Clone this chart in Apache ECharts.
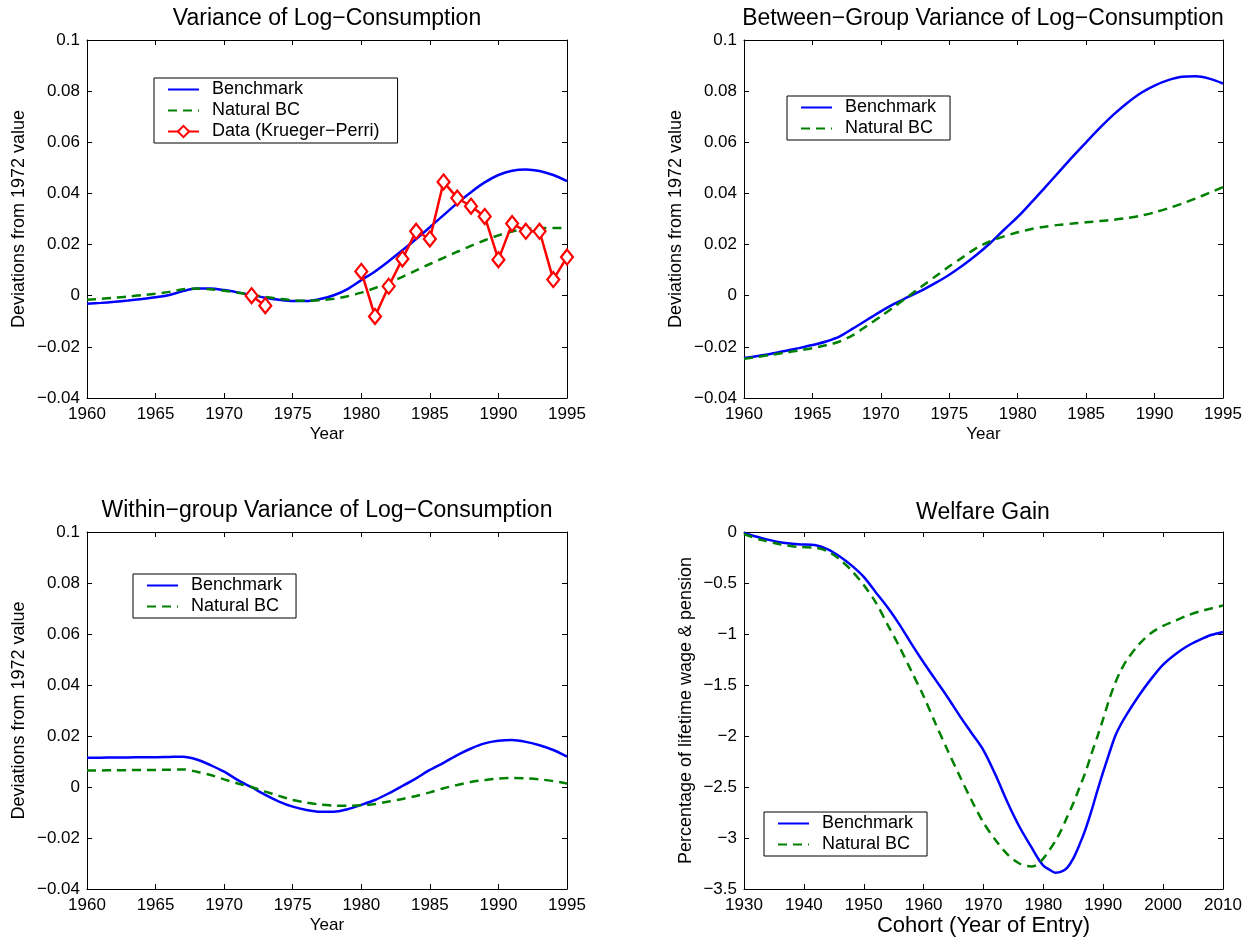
<!DOCTYPE html>
<html lang="en">
<head>
<meta charset="UTF-8">
<script src="https://cdn.jsdelivr.net/npm/echarts@6/dist/echarts.min.js"></script>
<style>
  html, body { margin: 0; padding: 0; background: #fff; }
  #chart { width: 1255px; height: 944px; }
</style>
</head>
<body>
<div id="chart"></div>
<script>
// ---- data ----
var years = [1960, 1961, 1962, 1963, 1964, 1965, 1966, 1967, 1968, 1969,
             1970, 1971, 1972, 1973, 1974, 1975, 1976, 1977, 1978, 1979,
             1980, 1981, 1982, 1983, 1984, 1985, 1986, 1987, 1988, 1989,
             1990, 1991, 1992, 1993, 1994, 1995];

// variance of log-consumption
var varBench = [-0.0031, -0.0028, -0.0024, -0.0019, -0.0013, -0.0006, 0.0003, 0.0018, 0.0028, 0.0028,
                0.0022, 0.0013, 0.0003, -0.0008, -0.0016, -0.0021, -0.0021, -0.0013, 0.0002, 0.0026,
                0.0061, 0.0095, 0.0135, 0.0178, 0.0222, 0.0268, 0.0315, 0.0362, 0.0405, 0.0443,
                0.0472, 0.0489, 0.0494, 0.0488, 0.0472, 0.0448];
var varNatural = [-0.0016, -0.0012, -0.0008, -0.0003, 0.0002, 0.0008, 0.0015, 0.0025, 0.0028, 0.0025,
                  0.0019, 0.0012, 0.0004, -0.0005, -0.0012, -0.0018, -0.0020, -0.0018, -0.0012, -0.0002,
                  0.0012, 0.0030, 0.0051, 0.0074, 0.0099, 0.0124, 0.0148, 0.0172, 0.0195, 0.0217,
                  0.0236, 0.0251, 0.0261, 0.0265, 0.0265, 0.0264];
var kpYears = [1972, 1973, 1980, 1981, 1982, 1983, 1984, 1985, 1986, 1987,
               1988, 1989, 1990, 1991, 1992, 1993, 1994, 1995];
var kpValues = [0.0000, -0.0039, 0.0095, -0.0081, 0.0037, 0.0144, 0.0252, 0.0222, 0.0445, 0.0382,
                0.0350, 0.0310, 0.0141, 0.0282, 0.0252, 0.0252, 0.0063, 0.0151];

// between-group variance
var betBench = [-0.0244, -0.0236, -0.0227, -0.0216, -0.0205, -0.0193, -0.0179, -0.0159, -0.0127, -0.0094,
                -0.0061, -0.0031, -0.0005, 0.0021, 0.0050, 0.0082, 0.0119, 0.0160, 0.0206, 0.0258,
                0.0308, 0.0365, 0.0424, 0.0483, 0.0543, 0.0600, 0.0656, 0.0708, 0.0754, 0.0793,
                0.0822, 0.0843, 0.0856, 0.0858, 0.0849, 0.0830];
var betNatural = [-0.0247, -0.0239, -0.0231, -0.0223, -0.0214, -0.0205, -0.0194, -0.0179, -0.0153, -0.0117,
                  -0.0081, -0.0042, -0.0003, 0.0037, 0.0076, 0.0115, 0.0151, 0.0187, 0.0213, 0.0232,
                  0.0248, 0.0261, 0.0270, 0.0277, 0.0282, 0.0287, 0.0292, 0.0297, 0.0304, 0.0313,
                  0.0326, 0.0342, 0.0360, 0.0380, 0.0402, 0.0425];

// within-group variance
var withBench = [0.0115, 0.0115, 0.0116, 0.0116, 0.0117, 0.0117, 0.0118, 0.0119, 0.0108, 0.0086,
                 0.0060, 0.0027, -0.0001, -0.0031, -0.0057, -0.0077, -0.0090, -0.0097, -0.0097, -0.0087,
                 -0.0070, -0.0051, -0.0025, 0.0004, 0.0034, 0.0067, 0.0095, 0.0125, 0.0151, 0.0171,
                 0.0181, 0.0184, 0.0177, 0.0164, 0.0145, 0.0119];
var withNatural = [0.0065, 0.0065, 0.0066, 0.0066, 0.0067, 0.0067, 0.0068, 0.0069, 0.0060, 0.0047,
                   0.0030, 0.0014, 0.0000, -0.0018, -0.0035, -0.0051, -0.0061, -0.0069, -0.0073, -0.0074,
                   -0.0072, -0.0067, -0.0057, -0.0047, -0.0035, -0.0021, -0.0005, 0.0008, 0.0020, 0.0027,
                   0.0033, 0.0035, 0.0034, 0.0030, 0.0023, 0.0014];

// welfare gain by cohort
var cohorts = [1930, 1933, 1936, 1939, 1942, 1944, 1946, 1948, 1950, 1952,
               1954, 1956, 1958, 1960, 1962, 1964, 1966, 1968, 1970, 1972,
               1974, 1976, 1978, 1979, 1980, 1981, 1982, 1983, 1984, 1985,
               1986, 1987, 1988, 1989, 1990, 1991, 1992, 1993, 1994, 1996,
               1998, 2000, 2002, 2004, 2006, 2008, 2010];
var welfareBench = [-0.01, -0.06, -0.10, -0.12, -0.13, -0.17, -0.24, -0.33, -0.44, -0.59,
                    -0.74, -0.91, -1.10, -1.28, -1.45, -1.62, -1.80, -1.97, -2.14, -2.38,
                    -2.65, -2.89, -3.09, -3.19, -3.27, -3.31, -3.34, -3.33, -3.29, -3.20,
                    -3.07, -2.92, -2.74, -2.54, -2.35, -2.17, -2.00, -1.88, -1.78, -1.60,
                    -1.44, -1.30, -1.20, -1.12, -1.06, -1.01, -0.98];
var welfareNatural = [-0.02, -0.08, -0.12, -0.145, -0.155, -0.19, -0.27, -0.38, -0.52, -0.69,
                      -0.91, -1.13, -1.37, -1.61, -1.88, -2.14, -2.39, -2.63, -2.85, -3.02,
                      -3.16, -3.25, -3.28, -3.26, -3.20, -3.12, -3.03, -2.92, -2.79, -2.66,
                      -2.51, -2.36, -2.18, -2.01, -1.83, -1.64, -1.48, -1.35, -1.25, -1.10,
                      -0.99, -0.92, -0.87, -0.82, -0.78, -0.75, -0.72];

var FONT = 'Liberation Sans, Arial, Helvetica, sans-serif';
var BLUE = '#0000ff', GREEN = '#008000', RED = '#ff0000';

// plot boxes [left, top, width, height]
var boxes = [[87, 40, 480, 358], [744, 40, 479, 358], [87, 532, 480, 357], [744, 532, 479, 357]];

function fmt(v) {
    var r = Math.round(v * 1000) / 1000;
    return r < 0 ? '\u2212' + String(-r) : String(r);
}

function pairs(xs, ys) {
    return xs.map(function (x, i) { return [x, ys[i]]; });
}

var xAxis = [], yAxis = [];
function addAxes(g, xr, yr, xName, xNameSize, yName, yGap) {
    var tick = { show: true, inside: true, length: 5, lineStyle: { color: '#000', width: 1 } };
    var line = { show: true, onZero: false, lineStyle: { color: '#000', width: 1 } };
    xAxis.push({
        type: 'value', gridIndex: g, min: xr[0], max: xr[1], interval: xr[2], position: 'bottom',
        name: xName, nameLocation: 'middle', nameGap: xNameSize > 18 ? 26 : 28,
        nameTextStyle: { color: '#000', fontSize: xNameSize, fontFamily: FONT },
        axisLine: line, axisTick: tick, splitLine: { show: false },
        axisLabel: { color: '#000', fontSize: 17, fontFamily: FONT, margin: 8,
                     showMinLabel: true, showMaxLabel: true, formatter: function (v) { return String(v); } }
    });
    xAxis.push({
        type: 'value', gridIndex: g, min: xr[0], max: xr[1], interval: xr[2], position: 'top',
        axisLine: line, axisTick: tick, axisLabel: { show: false }, splitLine: { show: false }
    });
    yAxis.push({
        type: 'value', gridIndex: g, min: yr[0], max: yr[1], interval: yr[2], position: 'left',
        name: yName, nameLocation: 'middle', nameGap: yGap,
        nameTextStyle: { color: '#000', fontSize: 18, fontFamily: FONT },
        axisLine: line, axisTick: tick, splitLine: { show: false },
        axisLabel: { color: '#000', fontSize: 17, fontFamily: FONT, margin: 7,
                     showMinLabel: true, showMaxLabel: true, formatter: fmt }
    });
    yAxis.push({
        type: 'value', gridIndex: g, min: yr[0], max: yr[1], interval: yr[2], position: 'right',
        axisLine: line, axisTick: tick, axisLabel: { show: false }, splitLine: { show: false }
    });
}

var devName = 'Deviations from 1972 value';
addAxes(0, [1960, 1995, 5], [-0.04, 0.1, 0.02], 'Year', 17, devName, 59);
addAxes(1, [1960, 1995, 5], [-0.04, 0.1, 0.02], 'Year', 17, devName, 59);
addAxes(2, [1960, 1995, 5], [-0.04, 0.1, 0.02], 'Year', 17, devName, 59);
addAxes(3, [1930, 2010, 10], [-3.5, 0, 0.5], 'Cohort (Year of Entry)', 22, 'Percentage of lifetime wage & pension', 49);

function modelSeries(name, g, xs, ys) {
    var dashed = name === 'Natural BC';
    return {
        name: name, type: 'line', xAxisIndex: 2 * g, yAxisIndex: 2 * g,
        data: pairs(xs, ys), symbol: 'none', smooth: 0.3, silent: true,
        lineStyle: { color: dashed ? GREEN : BLUE, width: 2.5, type: dashed ? [9, 6] : 'solid' },
        itemStyle: { color: dashed ? GREEN : BLUE },
        z: dashed ? 3 : 2
    };
}

var series = [
    modelSeries('Benchmark', 0, years, varBench),
    modelSeries('Natural BC', 0, years, varNatural),
    modelSeries('Benchmark', 1, years, betBench),
    modelSeries('Natural BC', 1, years, betNatural),
    modelSeries('Benchmark', 2, years, withBench),
    modelSeries('Natural BC', 2, years, withNatural),
    modelSeries('Benchmark', 3, cohorts, welfareBench),
    modelSeries('Natural BC', 3, cohorts, welfareNatural)
];

// Krueger-Perri data: the line breaks where years are missing
var kpName = 'Data (Krueger\u2212Perri)';
var runs = [[]];
kpYears.forEach(function (y, i) {
    if (i > 0 && y - kpYears[i - 1] > 1) runs.push([]);
    runs[runs.length - 1].push([y, kpValues[i]]);
});
runs.forEach(function (run) {
    series.push({
        name: kpName, type: 'line', xAxisIndex: 0, yAxisIndex: 0, data: run,
        symbol: 'diamond', symbolSize: [12, 15], silent: true, z: 5,
        lineStyle: { color: RED, width: 2.5 },
        itemStyle: { color: '#fff', borderColor: RED, borderWidth: 2.2 }
    });
});

// model lines get a plain line in the legend, no marker
function lineItem(name) {
    return { name: name, itemStyle: { opacity: 0 } };
}

function legendAt(left, top, names, padRight) {
    return {
        orient: 'vertical', left: left, top: top, data: names, selectedMode: false,
        itemWidth: 31, itemHeight: 14, itemGap: 0, padding: [1, padRight, 1, 13],
        borderColor: '#000', borderWidth: 1, borderRadius: 0, backgroundColor: '#fff',
        textStyle: { color: '#000', fontSize: 18, fontFamily: FONT, lineHeight: 21, padding: [0, 0, 0, 8] }
    };
}

function titleAt(text, cx, cy) {
    return {
        text: text, left: cx, top: cy - 11, textAlign: 'center', padding: 0,
        textStyle: { color: '#000', fontSize: 23, fontWeight: 'normal', fontFamily: FONT, lineHeight: 23 }
    };
}

var option = {
    backgroundColor: '#fff',
    animation: false,
    title: [
        titleAt('Variance of Log\u2212Consumption', 327, 18),
        titleAt('Between\u2212Group Variance of Log\u2212Consumption', 983, 18),
        titleAt('Within\u2212group Variance of Log\u2212Consumption', 327, 510),
        titleAt('Welfare Gain', 983, 512)
    ],
    legend: [
        legendAt(154, 78, [lineItem('Benchmark'), lineItem('Natural BC'), kpName], 18),
        legendAt(787, 96, [lineItem('Benchmark'), lineItem('Natural BC')], 14),
        legendAt(133, 574, [lineItem('Benchmark'), lineItem('Natural BC')], 14),
        legendAt(764, 812, [lineItem('Benchmark'), lineItem('Natural BC')], 14)
    ],
    grid: boxes.map(function (b) {
        return { left: b[0], top: b[1], width: b[2], height: b[3], containLabel: false, show: false };
    }),
    xAxis: xAxis,
    yAxis: yAxis,
    series: series
};

var chart = echarts.init(document.getElementById('chart'), null, { renderer: 'canvas' });
chart.setOption(option);
</script>
</body>
</html>
